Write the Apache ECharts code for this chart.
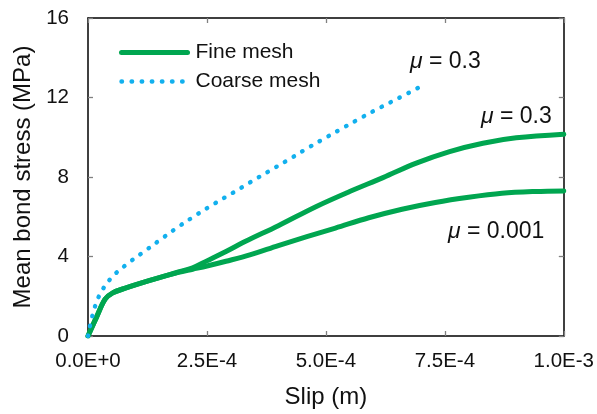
<!DOCTYPE html>
<html>
<head>
<meta charset="utf-8">
<script src="https://cdn.jsdelivr.net/npm/echarts@6/dist/echarts.min.js"></script>
<style>
  html, body { margin: 0; padding: 0; background: #fff; }
  #chart { width: 597px; height: 414px; }
</style>
</head>
<body>
<div id="chart"></div>
<script>
// Slip in metres, mean bond stress in MPa
const fineMu03Slip = [0, 0.18e-4, 0.36e-4, 0.52e-4, 0.8e-4, 1.3e-4, 1.9e-4, 2.2e-4, 2.5e-4, 2.9e-4, 3.3e-4, 4.0e-4, 4.8e-4, 5.5e-4, 6.2e-4, 6.9e-4, 7.6e-4, 8.3e-4, 9.0e-4, 10.0e-4];
const fineMu03Stress = [0, 0.95, 1.85, 2.17, 2.42, 2.8, 3.22, 3.43, 3.78, 4.25, 4.75, 5.55, 6.52, 7.27, 7.97, 8.7, 9.28, 9.7, 9.97, 10.15];

const fineMu0001Slip = [0, 0.18e-4, 0.36e-4, 0.52e-4, 0.8e-4, 1.3e-4, 1.9e-4, 2.2e-4, 2.5e-4, 2.9e-4, 3.4e-4, 4.0e-4, 4.6e-4, 5.2e-4, 5.9e-4, 6.6e-4, 7.3e-4, 8.0e-4, 8.7e-4, 9.4e-4, 10.0e-4];
const fineMu0001Stress = [0, 0.95, 1.85, 2.17, 2.42, 2.8, 3.2, 3.36, 3.52, 3.76, 4.08, 4.55, 5.0, 5.43, 5.95, 6.38, 6.72, 6.98, 7.18, 7.27, 7.3];

const coarseSlip = [0, 0.09e-4, 0.23e-4, 0.48e-4, 0.82e-4, 1.18e-4, 1.54e-4, 1.89e-4, 2.27e-4, 2.65e-4, 3.04e-4, 3.42e-4, 3.81e-4, 4.2e-4, 4.58e-4, 4.96e-4, 5.36e-4, 5.74e-4, 6.13e-4, 6.53e-4, 6.95e-4];
const coarseStress = [0, 1.0, 2.0, 2.9, 3.62, 4.25, 4.88, 5.48, 6.08, 6.65, 7.2, 7.75, 8.3, 8.85, 9.4, 9.93, 10.47, 10.98, 11.48, 11.97, 12.5];

const xTickLabels = ['0.0E+0', '2.5E-4', '5.0E-4', '7.5E-4', '1.0E-3'];
const yTickLabels = ['0', '4', '8', '12', '16'];

const seriesNames = ['Fine mesh', 'Coarse mesh'];
const curveNotes = ['{i|\u03bc} = 0.3', '{i|\u03bc} = 0.3', '{i|\u03bc} = 0.001'];

const GREEN = '#00A650';
const BLUE = '#12B0EE';
const INK = '#111';
const FONT = '"Liberation Sans", Arial, Helvetica, sans-serif';

const pairs = (xs, ys) => xs.map((x, i) => [x, ys[i]]);

const chart = echarts.init(document.getElementById('chart'), null, { renderer: 'canvas' });

const tickStyle = { show: true, inside: true, length: 5, lineStyle: { color: '#808080', width: 1.3 } };
const frameLine = { show: true, onZero: false, lineStyle: { color: '#000', width: 1.5 } };

const noteStyle = (text) => ({
  text,
  fontSize: 23, fontFamily: FONT, fill: INK,
  verticalAlign: 'middle', align: 'left',
  rich: { i: { fontStyle: 'italic', fontSize: 23, fontFamily: FONT, fill: INK } }
});

chart.setOption({
  animation: false,
  backgroundColor: '#fff',
  textStyle: { fontFamily: FONT },
  grid: { left: 88, right: 33, top: 18, bottom: 76, containLabel: false },
  legend: {
    data: seriesNames,
    orient: 'vertical',
    left: 119,
    top: 42,
    padding: 0,
    itemWidth: 66,
    itemHeight: 14,
    itemGap: 8,
    selectedMode: false,
    textStyle: { fontSize: 21, color: INK, fontFamily: FONT, padding: [0, 0, 0, 3] },
    itemStyle: { color: 'rgba(0,0,0,0)', borderWidth: 0 },
    lineStyle: { width: 'inherit', type: 'inherit', cap: 'inherit' }
  },
  xAxis: [{
    type: 'value', min: 0, max: 1e-3, interval: 2.5e-4, position: 'bottom',
    name: 'Slip (m)', nameLocation: 'middle', nameGap: 49,
    nameTextStyle: { fontSize: 24, color: INK, fontFamily: FONT },
    axisLine: frameLine, axisTick: tickStyle,
    axisLabel: { fontSize: 20.5, color: INK, margin: 15, fontFamily: FONT,
      formatter: (v) => xTickLabels[Math.round(v / 2.5e-4)] },
    splitLine: { show: false }
  }, {
    type: 'value', min: 0, max: 1e-3, interval: 2.5e-4, position: 'top',
    axisLine: frameLine, axisTick: tickStyle, axisLabel: { show: false }, splitLine: { show: false }
  }],
  yAxis: [{
    type: 'value', min: 0, max: 16, interval: 4, position: 'left',
    name: 'Mean bond stress (MPa)', nameLocation: 'middle', nameGap: 45, nameRotate: 90,
    nameTextStyle: { fontSize: 24, color: INK, fontFamily: FONT },
    axisLine: frameLine, axisTick: tickStyle,
    axisLabel: { fontSize: 20.5, color: INK, margin: 19, fontFamily: FONT,
      formatter: v => yTickLabels[Math.round(v / 4)] },
    splitLine: { show: false }
  }, {
    type: 'value', min: 0, max: 16, interval: 4, position: 'right',
    axisLine: frameLine, axisTick: tickStyle, axisLabel: { show: false }, splitLine: { show: false }
  }],
  series: [{
    name: seriesNames[0], type: 'line', symbol: 'none', smooth: 0.35,
    data: pairs(fineMu03Slip, fineMu03Stress),
    lineStyle: { color: GREEN, width: 5, cap: 'round', join: 'round' },
    itemStyle: { color: GREEN }, z: 3
  }, {
    name: seriesNames[0], type: 'line', symbol: 'none', smooth: 0.35,
    data: pairs(fineMu0001Slip, fineMu0001Stress),
    lineStyle: { color: GREEN, width: 5, cap: 'round', join: 'round' },
    itemStyle: { color: GREEN }, z: 3
  }, {
    name: seriesNames[1], type: 'line', symbol: 'none', smooth: 0.35,
    data: pairs(coarseSlip, coarseStress),
    lineStyle: { color: BLUE, width: 4.4, type: [0.5, 9.6], cap: 'round' },
    itemStyle: { color: BLUE }, z: 4
  }],
  graphic: [
    { type: 'text', x: 410, y: 62, style: noteStyle(curveNotes[0]) },
    { type: 'text', x: 481, y: 117, style: noteStyle(curveNotes[1]) },
    { type: 'text', x: 448, y: 232, style: noteStyle(curveNotes[2]) }
  ]
});
</script>
</body>
</html>
